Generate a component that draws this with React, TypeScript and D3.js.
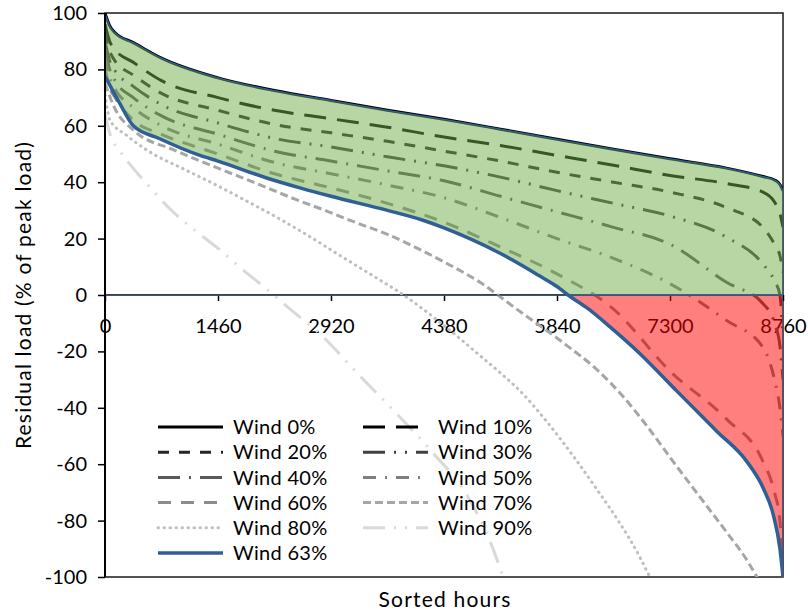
import React, { useRef, useEffect } from "react";
import * as d3 from "d3";

// Sorted residual load duration curves, % of peak load
const gridHours = [0, 60, 130, 365, 730, 1460, 2190, 2920, 3650, 4380, 5110, 5840, 6570, 7300, 8030, 8500, 8650, 8720, 8760];
const wind0 = [100, 95.5, 93, 89.5, 84, 77, 72.5, 69, 65.5, 62.3, 58.8, 55.2, 51.7, 48.3, 45, 42, 40.8, 39.2, 37];
const wind10 = [96, 90, 87, 82.5, 76, 70, 65.5, 62.5, 59.5, 56, 53, 49.5, 46, 42.4, 39.5, 36.5, 33, 29, 24];
const wind20 = [93, 86.5, 83, 78, 71.5, 65.5, 60.5, 57.5, 54.5, 51, 47.5, 43.5, 40, 36.5, 31, 24, 18, 14, 8];
const wind30 = [90, 83, 79.5, 74, 67.5, 61, 55.5, 52.5, 49, 45.8, 41.8, 37, 32.5, 28, 20.5, 11, 5, 0, -15];
const wind40 = [87, 80, 76, 70, 63.5, 57, 51, 47.5, 44, 40.5, 35, 29.5, 24, 18, 4.5, -3, -10, -18, -30];
const wind50 = [84, 77, 73, 66.5, 60, 53.5, 47, 43, 39, 34.5, 27.5, 20, 13, 4, -9, -18.5, -30, -40, -50];
const wind60 = [80.5, 73.5, 70, 62, 57, 50, 43, 38, 32.5, 25.8, 17, 7.5, -5, -27, -44, -59, -70, -80, -98];

const wind63Hours = [0, 60, 180, 366, 700, 1227, 1460, 2089, 2519, 2920, 3650, 4108, 4380, 5110, 5600, 5840, 5982, 6250, 6525, 6912, 7386, 7903, 8291, 8505, 8635, 8721, 8760];
const wind63 = [77.5, 74.5, 68.5, 60, 55.5, 49.5, 47.5, 41.5, 38, 35, 30, 26.5, 23.8, 14.7, 7, 3, 0, -5, -11.3, -20.8, -34, -48.3, -59, -68.5, -78, -90, -100];

const wind70Hours = [0, 130, 366, 904, 1460, 1900, 2455, 2881, 3230, 3650, 4005, 4430, 4845, 5100, 5245, 5943, 6357, 6693, 7003, 7339, 7752, 8070, 8270, 8424, 8500];
const wind70 = [75, 66, 58.5, 51.3, 45, 40.2, 34, 29.6, 25.8, 21.5, 17, 11, 4.5, -0.5, -3.5, -17.4, -26.5, -36, -46.5, -59, -74, -85.5, -93, -100, -103.5];

const wind80Hours = [0, 65, 280, 581, 1008, 1443, 1873, 2300, 2580, 3036, 3463, 3830, 4108, 4587, 4845, 5103, 5362, 5711, 6047, 6357, 6654, 6912, 7003, 7100];
const wind80 = [71, 62, 56.6, 50.7, 44.8, 38.9, 32.7, 26.3, 21.8, 14, 6.8, 0.5, -5, -15.5, -21.5, -27.5, -34, -45, -57, -69, -81, -93, -98, -103];

const wind90Hours = [0, 65, 194, 362, 620, 840, 1227, 1486, 1757, 2093, 2326, 2842, 3269, 3747, 4238, 4677, 5013, 5142, 5207];
const wind90 = [64, 57, 51, 45, 37, 30.5, 21.5, 16, 9.5, 2, -3.5, -15.5, -28, -41.5, -56, -71, -90, -100, -105];

const seriesLabels = ["Wind 0%", "Wind 10%", "Wind 20%", "Wind 30%", "Wind 40%", "Wind 50%", "Wind 60%", "Wind 70%", "Wind 80%", "Wind 90%", "Wind 63%"];
const seriesHours = [gridHours, gridHours, gridHours, gridHours, gridHours, gridHours, gridHours, wind70Hours, wind80Hours, wind90Hours, wind63Hours];
const seriesValues = [wind0, wind10, wind20, wind30, wind40, wind50, wind60, wind70, wind80, wind90, wind63];

const xTicks = [0, 1460, 2920, 4380, 5840, 7300, 8760];
const yTicks = [-100, -80, -60, -40, -20, 0, 20, 40, 60, 80, 100];

// line look per series, same order as the labels
const lineStyles = [
  { color: "#000000", dash: null, width: 3, cap: "butt" },
  { color: "#000000", dash: "22,11", width: 3, cap: "butt" },
  { color: "#262626", dash: "11,10", width: 3, cap: "butt" },
  { color: "#404040", dash: "22,9,2,9,2,9", width: 3, cap: "butt" },
  { color: "#595959", dash: "22,9,2,9", width: 3, cap: "butt" },
  { color: "#7f7f7f", dash: "13,9,2,9", width: 3, cap: "butt" },
  { color: "#8c8c8c", dash: "13,10", width: 3, cap: "butt" },
  { color: "#a6a6a6", dash: "8,4", width: 3, cap: "butt" },
  { color: "#bfbfbf", dash: "0.5,5.5", width: 3, cap: "round" },
  { color: "#d9d9d9", dash: "22,9,2,9,2,9", width: 3, cap: "butt" },
  { color: "#2f5f95", dash: null, width: 3.5, cap: "butt" },
];

const FONT = "Lato, 'Open Sans', sans-serif";

export default function App() {
  const svgRef = useRef<SVGSVGElement>(null);

  useEffect(() => {
    const svg = d3.select(svgRef.current);
    svg.selectAll("*").remove();

    const left = 105, right = 783, top = 13, bottom = 577;
    const x = d3.scaleLinear().domain([0, 8760]).range([left, right]);
    const y = d3.scaleLinear().domain([-100, 100]).range([bottom, top]);

    const pts = (hours: number[], vals: number[]) => hours.map((h, i) => [h, vals[i]] as [number, number]);
    const p0 = pts(gridHours, wind0);
    const p63 = pts(wind63Hours, wind63);

    const line = d3
      .line<[number, number]>()
      .x((d) => x(d[0]))
      .y((d) => y(d[1]))
      .curve(d3.curveMonotoneX);

    const defs = svg.append("defs");
    defs.append("clipPath").attr("id", "plotClip").append("rect")
      .attr("x", left).attr("y", top).attr("width", right - left).attr("height", bottom - top);
    defs.append("clipPath").attr("id", "above63").append("path")
      .attr("d", d3.area<[number, number]>().x((d) => x(d[0])).y0((d) => y(d[1])).y1(0).curve(d3.curveMonotoneX)(p63));
    defs.append("clipPath").attr("id", "belowZero").append("rect")
      .attr("x", left).attr("y", y(0)).attr("width", right - left).attr("height", bottom - y(0));

    // frame
    svg.append("rect")
      .attr("x", left).attr("y", top).attr("width", right - left).attr("height", bottom - top)
      .attr("fill", "none").attr("stroke", "#1a1a1a").attr("stroke-width", 1.5);

    // y axis ticks + labels
    const yAxis = svg.append("g")
      .attr("transform", `translate(${left},0)`)
      .call(d3.axisLeft(y).tickValues(yTicks).tickSize(7).tickPadding(11).tickFormat((d) => String(d)));
    yAxis.select(".domain").remove();
    yAxis.attr("font-size", 20).attr("font-family", FONT);
    yAxis.selectAll("text").attr("fill", "#000");
    yAxis.selectAll("line").attr("stroke", "#000").attr("stroke-width", 1.5);

    // x axis on the zero line
    const xAxis = svg.append("g")
      .attr("transform", `translate(0,${y(0)})`)
      .call(d3.axisBottom(x).tickValues(xTicks).tickSize(6).tickPadding(18).tickFormat((d) => String(d)));
    xAxis.select(".domain").remove();
    xAxis.attr("font-size", 20).attr("font-family", FONT);
    xAxis.selectAll("text").attr("fill", "#000");
    xAxis.selectAll("line").attr("stroke", "#000").attr("stroke-width", 1.5);

    svg.append("line")
      .attr("x1", left).attr("x2", right).attr("y1", y(0)).attr("y2", y(0))
      .attr("stroke", "#000").attr("stroke-width", 1.5);

    // series lines (all but 63%)
    const linesG = svg.append("g").attr("clip-path", "url(#plotClip)");
    seriesLabels.forEach((lab, i) => {
      if (i === 10) return;
      const s = lineStyles[i];
      linesG.append("path")
        .attr("d", line(pts(seriesHours[i], seriesValues[i])))
        .attr("fill", "none")
        .attr("stroke", s.color)
        .attr("stroke-width", s.width)
        .attr("stroke-dasharray", s.dash)
        .attr("stroke-linecap", s.cap);
    });

    // green: between 0% curve and max(63%, 0)
    const greenArea = d3.area<[number, number]>()
      .x((d) => x(d[0])).y0(y(0)).y1((d) => y(d[1])).curve(d3.curveMonotoneX);
    svg.append("path")
      .attr("d", greenArea(p0))
      .attr("clip-path", "url(#above63)")
      .attr("fill", "#70ad47").attr("fill-opacity", 0.5)
      .attr("stroke", "#2f5f95").attr("stroke-width", 1.3);

    // red: 63% curve below zero
    const redArea = d3.area<[number, number]>()
      .x((d) => x(d[0])).y0((d) => y(d[1])).y1(y(0)).curve(d3.curveMonotoneX);
    svg.append("path")
      .attr("d", redArea(p63))
      .attr("clip-path", "url(#belowZero)")
      .attr("fill", "#ff0000").attr("fill-opacity", 0.5)
      .attr("stroke", "#2f5f95").attr("stroke-width", 1.6);

    // 63% line on top
    const s63 = lineStyles[10];
    svg.append("g").attr("clip-path", "url(#plotClip)").append("path")
      .attr("d", line(p63))
      .attr("fill", "none").attr("stroke", s63.color).attr("stroke-width", s63.width);

    // left axis line
    svg.append("line")
      .attr("x1", left).attr("x2", left).attr("y1", top).attr("y2", bottom)
      .attr("stroke", "#000").attr("stroke-width", 2);

    // legend
    const legend = svg.append("g").attr("font-family", FONT).attr("font-size", 20);
    seriesLabels.forEach((lab, i) => {
      const s = lineStyles[i];
      const col = i % 2;
      const row = Math.floor(i / 2);
      const lx = 158 + col * 205;
      const ly = 427 + row * 25.2;
      legend.append("line")
        .attr("x1", lx).attr("x2", lx + 65).attr("y1", ly).attr("y2", ly)
        .attr("stroke", s.color).attr("stroke-width", s.width)
        .attr("stroke-dasharray", s.dash).attr("stroke-linecap", s.cap);
      legend.append("text")
        .attr("x", lx + 75).attr("y", ly).attr("dy", "0.36em")
        .attr("letter-spacing", 0.3)
        .attr("fill", "#000")
        .text(lab);
    });

    // axis titles
    svg.append("text")
      .attr("transform", `translate(31,${(top + bottom) / 2}) rotate(-90)`)
      .attr("text-anchor", "middle")
      .attr("font-family", FONT).attr("font-size", 21).attr("letter-spacing", 1.2)
      .attr("fill", "#000")
      .text("Residual load (% of peak load)");

    svg.append("text")
      .attr("x", 445).attr("y", 607)
      .attr("text-anchor", "middle")
      .attr("font-family", FONT).attr("font-size", 21).attr("letter-spacing", 1.2)
      .attr("fill", "#000")
      .text("Sorted hours");
  }, []);

  return (
    <svg
      ref={svgRef}
      width={808}
      height={614}
      style={{ position: "absolute", left: 0, top: 0, background: "#fff" }}
    />
  );
}
